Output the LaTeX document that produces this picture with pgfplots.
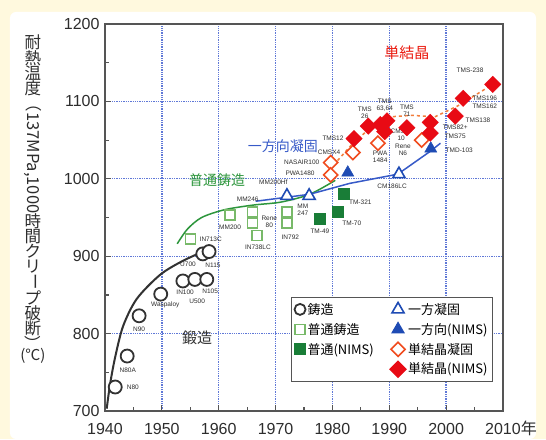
\documentclass[border=0pt]{standalone}
\usepackage{pgfplots}
\pgfplotsset{compat=1.18}
\usepackage{fontspec}
\usepackage{graphicx}
\setmainfont{Liberation Sans}
\newfontfamily\jp{Noto Sans CJK JP}
\definecolor{cream}{RGB}{255,249,222}
\definecolor{gridblue}{RGB}{95,120,215}
\definecolor{frame}{RGB}{85,85,85}
\definecolor{castc}{RGB}{50,50,50}
\definecolor{lgreen}{RGB}{120,185,105}
\definecolor{dgreen}{RGB}{25,125,55}
\definecolor{cgreen}{RGB}{45,150,60}
\definecolor{tblue}{RGB}{30,75,180}
\definecolor{lblue}{RGB}{55,90,200}
\definecolor{scred}{RGB}{232,10,20}
\definecolor{scorange}{RGB}{240,75,30}
\definecolor{lorange}{RGB}{242,125,60}
\definecolor{txt}{RGB}{45,45,45}
\newcommand\vc[1]{\hbox to 17pt{\hss\vphantom{耐}#1\hss}}
\newcommand\vr[1]{\hbox to 17pt{\hss\rotatebox[origin=c]{-90}{#1}\hss}}
\begin{document}
\begin{tikzpicture}
\fill[cream] (-105pt,-28pt) rectangle (441pt,411pt);
\fill[white, rounded corners=6pt] (-95pt,-28pt) rectangle (431pt,399pt);
\begin{axis}[
  at={(0pt,0pt)}, anchor=south west,
  scale only axis, width=398pt, height=387pt,
  xmin=1940, xmax=2010, ymin=700, ymax=1200,
  xtick={1940,1950,...,2010},
  xticklabels={1940,1950,1960,1970,1980,1990,2000,{2010\rlap{\smash{\jp 年}}}},
  ytick={700,800,...,1200},
  minor x tick num=1, minor y tick num=1,
  tick pos=left, tick align=inside,
  major tick length=6pt, minor tick length=4pt,
  every tick/.style={frame, line width=1.2pt},
  axis line style={frame, line width=1.6pt},
  grid=major,
  major grid style={gridblue, line width=1.3pt, densely dotted},
  tick label style={font=\fontsize{16}{18}\selectfont, text=txt},
  xticklabel style={yshift=-9pt},
  yticklabel style={xshift=-2pt},
  /pgf/number format/assume math mode=true,
  /pgf/number format/1000 sep={},
  legend columns=2,
  legend cell align=left,
  legend style={at={(0.975,0.075)}, anchor=south east, draw=frame, line width=1pt,
    font=\jp\fontsize{13}{15}\selectfont, text=black, row sep=3.5pt,
    /tikz/every even column/.append style={column sep=14pt},
    inner sep=3pt, inner ysep=4pt},
  legend image code/.code={\draw[#1] plot coordinates {(0.16cm,0cm)};},
]
% trend lines
\addplot[forget plot, castc, line width=2pt, smooth] coordinates {
(1940.3,703) (1940.9,735) (1941.8,770) (1943.2,810) (1945.6,845) (1949.7,876) (1953.7,894) (1958.5,910)};
\addplot[forget plot, cgreen, line width=1.5pt, smooth] coordinates {
(1952.7,916) (1954.5,935) (1957,950) (1961,960) (1966,966) (1971,970) (1976,980) (1980.5,998)};
\addplot[forget plot, lblue, line width=1.5pt] coordinates {
(1966.5,971) (1976,980) (1983,994) (1991.5,1006) (1997.3,1036) (1999,1046)};
\addplot[forget plot, lorange, line width=1.5pt, dashed] coordinates {
(1979.5,1012) (1983.5,1045) (1987,1068) (1990,1080) (1994,1082) (1998,1080) (2002,1094) (2008.2,1122)};
% cast
\addplot[forget plot, only marks, mark=*, mark size=6.5pt, mark options={draw=castc, fill=white, line width=1.8pt}] coordinates {
(1941.8,731) (1943.9,771) (1946.0,823) (1949.8,851) (1953.7,868) (1955.8,870) (1957.9,870) (1957.2,903) (1958.3,906)};
% conventional cast
\addplot[forget plot, only marks, mark=square*, mark size=5pt, mark options={draw=lgreen, fill=white, line width=1.4pt}] coordinates {
(1955.0,922) (1962.0,953) (1965.9,957) (1965.9,943) (1966.7,927) (1972.0,957) (1972.0,943)};
\addplot[forget plot, only marks, mark=square*, mark size=5.5pt, mark options={draw=dgreen, fill=dgreen}] coordinates {
(1977.8,948) (1981.0,957) (1981.9,981)};
% DS
\addplot[forget plot, only marks, mark=triangle*, mark size=7pt, mark options={draw=tblue, fill=white, line width=1.6pt}] coordinates {
(1972.0,978) (1975.9,978) (1991.7,1006)};
\addplot[forget plot, only marks, mark=triangle*, mark size=7pt, mark options={draw=tblue, fill=tblue}] coordinates {
(1982.7,1008) (1997.3,1039)};
% SC
\addplot[forget plot, only marks, mark=square*, mark size=5pt, mark options={draw=scorange, fill=white, line width=1.6pt, rotate=45}] coordinates {
(1979.7,1021) (1979.7,1005) (1983.6,1034) (1988.0,1046) (1995.7,1050)};
\addplot[forget plot, only marks, mark=square*, mark size=5.8pt, mark options={draw=scred, fill=scred, rotate=45}] coordinates {
(1983.8,1052) (1986.3,1068) (1988.4,1070) (1989.6,1075) (1989.2,1061) (1993.1,1066) (1997.2,1073) (1997.2,1059) (2001.6,1081) (2003.0,1104) (2008.2,1122)};
% legend
\addlegendimage{only marks, mark=*, mark size=5.5pt, mark options={draw=castc, fill=white, line width=1.8pt}}
\addlegendentry{鋳造}
\addlegendimage{only marks, mark=triangle*, mark size=7pt, mark options={draw=tblue, fill=white, line width=1.6pt}}
\addlegendentry{一方凝固}
\addlegendimage{only marks, mark=square*, mark size=5pt, mark options={draw=lgreen, fill=white, line width=1.4pt}}
\addlegendentry{普通鋳造}
\addlegendimage{only marks, mark=triangle*, mark size=7pt, mark options={draw=tblue, fill=tblue}}
\addlegendentry{一方向(NIMS)}
\addlegendimage{only marks, mark=square*, mark size=5.5pt, mark options={draw=dgreen, fill=dgreen}}
\addlegendentry{普通(NIMS)}
\addlegendimage{only marks, mark=square*, mark size=5pt, mark options={draw=scorange, fill=white, line width=1.6pt, rotate=45}}
\addlegendentry{単結晶凝固}
\addlegendimage{empty legend}
\addlegendentry{}
\addlegendimage{only marks, mark=square*, mark size=5.8pt, mark options={draw=scred, fill=scred, rotate=45}}
\addlegendentry{単結晶(NIMS)}
% region labels
\node[font=\jp\fontsize{15}{16}\selectfont, text=scred!85!orange] at (axis cs:1993.1,1163) {単結晶};
\node[font=\jp\fontsize{14}{16}\selectfont, text=lblue] at (axis cs:1971.3,1042) {一方向凝固};
\node[font=\jp\fontsize{14}{16}\selectfont, text=cgreen] at (axis cs:1959.7,998) {普通鋳造};
\node[font=\jp\fontsize{15}{16}\selectfont, text=castc] at (axis cs:1956.2,794) {鍛造};
% point labels
\begin{scope}[every node/.style={font=\fontsize{6.5}{7}\selectfont, text=txt, align=center, inner sep=0.5pt}]
\node at (axis cs:1944.9,731) {N80};
\node at (axis cs:1944.0,752) {N80A};
\node at (axis cs:1946.0,806) {N90};
\node at (axis cs:1950.6,837) {Waspaloy};
\node at (axis cs:1954.1,853) {IN100};
\node at (axis cs:1958.5,855) {N105};
\node at (axis cs:1956.2,842) {U500};
\node at (axis cs:1954.6,890) {U700};
\node at (axis cs:1959.0,888) {N115};
\node at (axis cs:1958.6,922) {IN713C};
\node at (axis cs:1962.0,937) {MM200};
\node at (axis cs:1965.1,974) {MM246};
\node at (axis cs:1968.9,944) {Rene\\80};
\node at (axis cs:1966.9,911) {IN738LC};
\node at (axis cs:1972.6,925) {IN792};
\node at (axis cs:1974.8,960) {MM\\247};
\node at (axis cs:1977.8,932) {TM-49};
\node at (axis cs:1983.4,942) {TM-70};
\node at (axis cs:1984.9,970) {TM-321};
\node at (axis cs:1969.6,995) {MM200Hf};
\node at (axis cs:1990.5,991) {CM186LC};
\node at (axis cs:2002.3,1037) {TMD-103};
\node at (axis cs:1974.6,1021) {NASAIR100};
\node at (axis cs:1974.3,1007) {PWA1480};
\node at (axis cs:1979.4,1034) {CMSX4};
\node at (axis cs:1980.1,1052) {TMS12};
\node at (axis cs:1988.4,1029) {PWA\\1484};
\node at (axis cs:1992.1,1057) {CMSX-\\10};
\node at (axis cs:1992.4,1037) {Rene\\N6};
\node at (axis cs:1985.7,1085) {TMS\\26};
\node at (axis cs:1989.2,1095) {TMS\\63,64};
\node at (axis cs:1993.1,1088) {TMS\\71};
\node at (axis cs:2001.6,1066) {TMS82+};
\node at (axis cs:2001.6,1055) {TMS75};
\node at (axis cs:2005.6,1076) {TMS138};
\node at (axis cs:2006.8,1104) {TMS196};
\node at (axis cs:2006.8,1094) {TMS162};
\node at (axis cs:2004.2,1140) {TMS-238};
\end{scope}
\end{axis}
\node[anchor=north, inner sep=0pt, font=\jp\fontsize{16.5}{17}\selectfont, text=txt] at (-72pt,376pt)
 {\vbox{\offinterlineskip\vc{耐}\vc{熱}\vc{温}\vc{度}\vr{（137MPa,1000}\vc{時}\vc{間}\vc{ク}\vc{リ}\vr{ー}\vc{プ}\vc{破}\vc{断}\vr{）}}};
\node[font=\jp\fontsize{15}{16}\selectfont, text=txt] at (-72pt,55pt) {(℃)};
\end{tikzpicture}
\end{document}
